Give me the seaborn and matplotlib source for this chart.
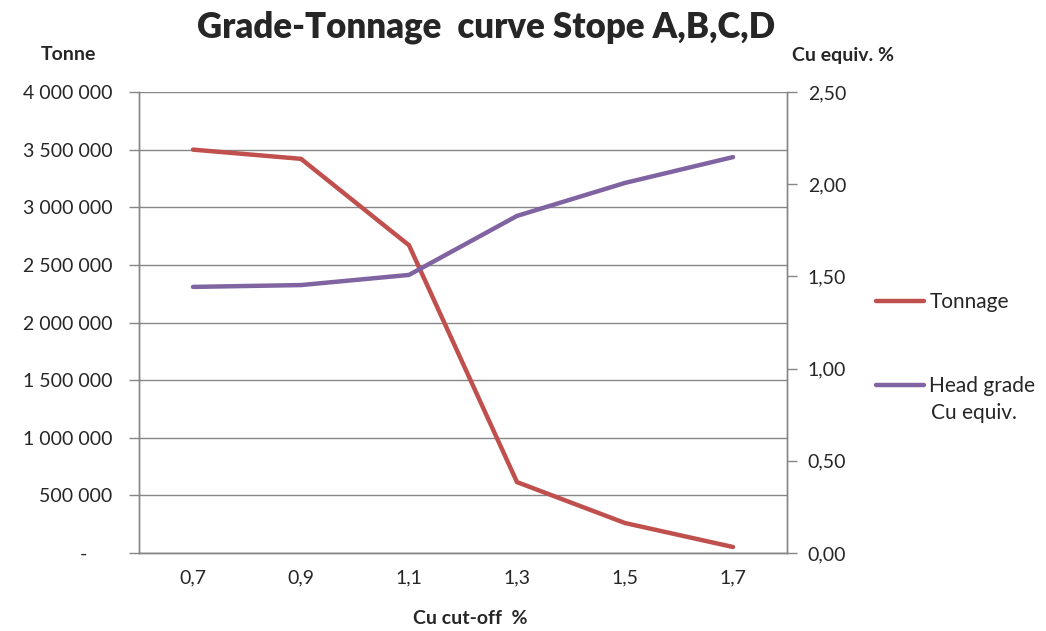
import matplotlib
matplotlib.use("Agg")
import matplotlib.pyplot as plt
import seaborn as sns
import pandas as pd
from matplotlib.ticker import FixedLocator, FuncFormatter

cutoff_labels = ["0,7", "0,9", "1,1", "1,3", "1,5", "1,7"]
tonnage = [3500000, 3420000, 2670000, 615000, 260000, 52000]
head_grade = [1.443, 1.453, 1.508, 1.828, 2.007, 2.147]

sns.set_theme(style="white")
plt.rcParams['font.family'] = ['Lato', 'DejaVu Sans']

RED = "#C0504D"
PURPLE = "#8064A2"
GRID = "#868686"

df = pd.DataFrame({"x": range(len(cutoff_labels)), "Tonnage": tonnage, "Head": head_grade})

fig = plt.figure(figsize=(10.46, 6.31), dpi=100)
ax = fig.add_axes([139/1046, 1-553/631, (787-139)/1046, (553-92)/631])
ax2 = ax.twinx()

sns.lineplot(data=df, x="x", y="Tonnage", ax=ax, color=RED, linewidth=3.2, label="Tonnage", legend=False)
sns.lineplot(data=df, x="x", y="Head", ax=ax2, color=PURPLE, linewidth=3.2, label="Head grade", legend=False)

for l in ax.lines + ax2.lines:
    l.set_solid_capstyle("round")
    l.set_solid_joinstyle("miter")

ax.set_xlim(-0.5, len(cutoff_labels)-0.5)
ax.set_ylim(0, 4000000)
ax2.set_ylim(0, 2.5)
ax.set_yticks([i*500000 for i in range(9)])
ax2.set_yticks([i*0.5 for i in range(6)])

def left_fmt(v, pos):
    if v == 0:
        return "-     "
    return f"{int(v):,}".replace(",", " ")
ax.yaxis.set_major_formatter(FuncFormatter(left_fmt))
ax2.yaxis.set_major_formatter(FuncFormatter(lambda v, p: f"{v:.2f}".replace(".", ",")))

ax.set_xticks(range(len(cutoff_labels)))
ax.set_xticklabels(cutoff_labels)
ax.xaxis.set_minor_locator(FixedLocator([i-0.5 for i in range(len(cutoff_labels)+1)]))
ax.tick_params(axis="x", which="major", length=0, pad=12, labelsize=14)
ax.tick_params(axis="x", which="minor", length=7, width=1, color=GRID, direction="out")
ax.tick_params(axis="y", which="major", length=7, width=1, color=GRID, direction="out", labelsize=14, pad=12, left=True)
ax2.tick_params(axis="y", which="major", length=7, width=1, color=GRID, direction="out", labelsize=14, pad=8, right=True)

ax.grid(axis="y", color=GRID, linewidth=1)
ax.grid(axis="x", visible=False)
ax2.grid(False)

for a in (ax, ax2):
    a.spines["top"].set_visible(False)
    for s in ("left", "right", "bottom"):
        a.spines[s].set_color(GRID)
        a.spines[s].set_linewidth(1)
ax.set_xlabel("")
ax.set_ylabel("")
ax2.set_ylabel("")

fig.text(486/1046, 1-27/631, "Grade-Tonnage  curve Stope A,B,C,D", ha="center", va="center",
         fontsize=25, fontweight="heavy")
fig.text(68/1046, 1-55/631, "Tonne", ha="center", va="center", fontsize=14, fontweight="bold")
fig.text(843/1046, 1-55/631, "Cu equiv. %", ha="center", va="center", fontsize=14, fontweight="bold")
fig.text(470/1046, 1-618/631, "Cu cut-off  %", ha="center", va="center", fontsize=14, fontweight="bold")

h1, l1 = ax.get_legend_handles_labels()
h2, l2 = ax2.get_legend_handles_labels()
fig.legend(h1+h2, l1+l2, loc="upper left", bbox_to_anchor=(868/1046, 1-284/631), frameon=False,
           fontsize=15, handlelength=2.3, handletextpad=0.25, labelspacing=3.05, borderaxespad=0)
fig.text(931/1046, 1-413/631, "Cu equiv.", ha="left", va="center", fontsize=15)

fig.savefig("out.png", dpi=100, facecolor="white")
